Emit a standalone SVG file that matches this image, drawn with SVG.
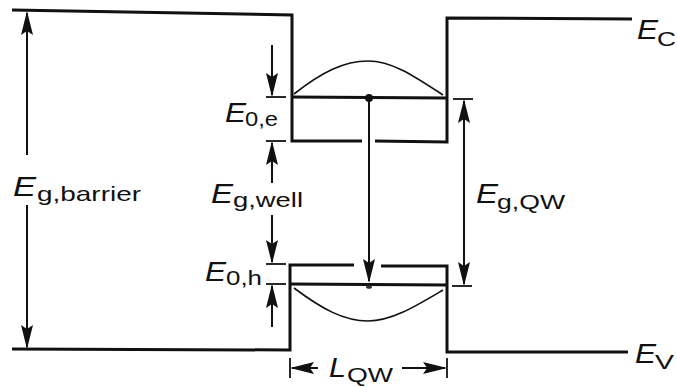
<svg xmlns="http://www.w3.org/2000/svg" width="677" height="387" viewBox="0 0 677 387">
<style>
  .band{fill:none;stroke:#111;stroke-width:3;stroke-linejoin:miter}
  .lvl{fill:none;stroke:#111;stroke-width:3}
  .wf{fill:none;stroke:#111;stroke-width:1.6}
  .dim{fill:none;stroke:#111;stroke-width:2}
  .tick{fill:none;stroke:#111;stroke-width:1.8}
  .m{font-family:"Liberation Sans",Arial,sans-serif;font-style:italic;font-size:27px;fill:#111}
  .s{font-family:"Liberation Sans",Arial,sans-serif;font-size:21px;fill:#111}
</style>
<defs>
  <marker id="ah" markerUnits="userSpaceOnUse" markerWidth="24" markerHeight="13" refX="22" refY="6.5" orient="auto-start-reverse" viewBox="0 0 24 13">
    <path d="M0,0.5 L24,6.5 L0,12.5 L4,6.5 z" fill="#111"/>
  </marker>
</defs>
<rect width="677" height="387" fill="#fff"/>

<g id="conduction-band">
  <path class="band" d="M12,10 L292,15 L292,141 L362,141"/>
  <path class="band" d="M375,141 L447,142 L447,18 L632,19"/>
</g>
<g id="valence-band">
  <path class="band" d="M12,349 L290,350 L290,265 L354,265"/>
  <path class="band" d="M381,266 L447,266 L447,352 L628,352"/>
</g>
<g id="electron-level">
  <line class="lvl" x1="292" y1="97" x2="447" y2="98"/>
  <path class="wf" d="M294,94 C322,72 344,61 368,61 C392,61 414,76 443,95"/>
  <circle cx="369" cy="98" r="4" fill="#111"/>
</g>
<g id="hole-level">
  <line class="lvl" x1="290" y1="284" x2="447" y2="285"/>
  <path class="wf" d="M294,288 C322,309 344,321 368,321 C392,321 416,306 443,290"/>
  <ellipse cx="369" cy="287" rx="3" ry="1.8" fill="#333"/>
</g>

<g id="connectors">
  <line class="dim" x1="27" y1="155" x2="27" y2="13" marker-end="url(#ah)"/>
  <line class="dim" x1="27" y1="205" x2="27" y2="347" marker-end="url(#ah)"/>
  <line class="dim" x1="272" y1="45" x2="272" y2="95" marker-end="url(#ah)"/>
  <line class="tick" x1="266" y1="97" x2="286" y2="97"/>
  <line class="tick" x1="266" y1="141" x2="286" y2="141"/>
  <line class="dim" x1="272" y1="183" x2="272" y2="143" marker-end="url(#ah)"/>
  <line class="dim" x1="272" y1="215" x2="272" y2="262" marker-end="url(#ah)"/>
  <line class="tick" x1="266" y1="264" x2="286" y2="264"/>
  <line class="tick" x1="266" y1="284" x2="286" y2="284"/>
  <line class="dim" x1="272" y1="327" x2="272" y2="286" marker-end="url(#ah)"/>
  <line class="tick" x1="453" y1="99" x2="473" y2="99"/>
  <line class="tick" x1="452" y1="286" x2="472" y2="286"/>
  <line class="dim" x1="464" y1="101" x2="464" y2="284" marker-start="url(#ah)" marker-end="url(#ah)"/>
  <line class="dim" x1="369" y1="100" x2="369" y2="281" marker-end="url(#ah)"/>
  <line class="tick" x1="290" y1="358" x2="290" y2="378"/>
  <line class="tick" x1="447" y1="358" x2="447" y2="378"/>
  <line class="dim" x1="318" y1="368" x2="292" y2="368" marker-end="url(#ah)"/>
  <line class="dim" x1="402" y1="368" x2="445" y2="368" marker-end="url(#ah)"/>
</g>

<g id="label-Eg-barrier">
  <text class="m" x="13" y="196" textLength="23" lengthAdjust="spacingAndGlyphs">E</text>
  <text class="s" x="37" y="201" textLength="104" lengthAdjust="spacingAndGlyphs">g,barrier</text>
</g>
<g id="label-E0e">
  <text class="m" x="225" y="122" textLength="21" lengthAdjust="spacingAndGlyphs">E</text>
  <text class="s" x="245" y="126" textLength="33" lengthAdjust="spacingAndGlyphs">0,e</text>
</g>
<g id="label-Eg-well">
  <text class="m" x="211" y="203" textLength="22" lengthAdjust="spacingAndGlyphs">E</text>
  <text class="s" x="233" y="207" textLength="70" lengthAdjust="spacingAndGlyphs">g,well</text>
</g>
<g id="label-E0h">
  <text class="m" x="205" y="281" textLength="21" lengthAdjust="spacingAndGlyphs">E</text>
  <text class="s" x="226" y="285" textLength="36" lengthAdjust="spacingAndGlyphs">0,h</text>
</g>
<g id="label-Eg-QW">
  <text class="m" x="476" y="203" textLength="22" lengthAdjust="spacingAndGlyphs">E</text>
  <text class="s" x="497" y="209" textLength="68" lengthAdjust="spacingAndGlyphs">g,QW</text>
</g>
<g id="label-EC">
  <text class="m" x="637" y="39" textLength="21" lengthAdjust="spacingAndGlyphs">E</text>
  <text class="s" x="657" y="46" textLength="19" lengthAdjust="spacingAndGlyphs">C</text>
</g>
<g id="label-EV">
  <text class="m" x="635" y="363" textLength="21" lengthAdjust="spacingAndGlyphs">E</text>
  <text class="s" x="655" y="369" textLength="19" lengthAdjust="spacingAndGlyphs">V</text>
</g>
<g id="label-LQW">
  <text class="m" x="329" y="377" textLength="17" lengthAdjust="spacingAndGlyphs">L</text>
  <text class="s" x="347" y="382" textLength="46" lengthAdjust="spacingAndGlyphs">QW</text>
</g>
</svg>
